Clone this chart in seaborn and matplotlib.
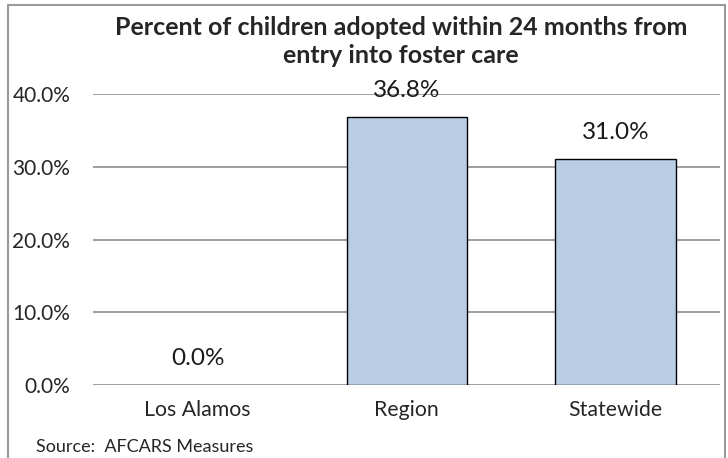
"""
Percent of children adopted within 24 months from entry into foster care.
Bar chart redrawn with seaborn, saved to out.png.
"""

import matplotlib
matplotlib.use("Agg")
import matplotlib.pyplot as plt
from matplotlib.patches import Rectangle
import pandas as pd
import seaborn as sns

categories = ["Los Alamos", "Region", "Statewide"]
percent_adopted = [0.0, 36.8, 31.0]
y_ticks = [0, 10, 20, 30, 40]
y_tick_labels = ["0.0%", "10.0%", "20.0%", "30.0%", "40.0%"]
title = "Percent of children adopted within 24 months from\nentry into foster care"
source_note = "Source:  AFCARS Measures"

df = pd.DataFrame({"area": categories, "pct": percent_adopted})

sns.set_theme(style="white")
plt.rcParams["font.family"] = ["Lato", "DejaVu Sans"]

fig = plt.figure(figsize=(7.28, 4.58), dpi=100)
ax = fig.add_axes([0.128, 0.159, 0.861, 0.636])

sns.barplot(
    data=df, x="area", y="pct", ax=ax,
    color="#B9CDE5", saturation=1, width=0.575,
    edgecolor="black", linewidth=1.0, zorder=3,
)

ax.set_ylim(0, 40)
ax.set_yticks(y_ticks)
ax.set_yticklabels(y_tick_labels, fontsize=15)
ax.tick_params(axis="x", labelsize=15.3, pad=11, length=0)
ax.tick_params(axis="y", pad=16.5, length=0)
ax.set_xlabel("")
ax.set_ylabel("")
ax.yaxis.grid(True, color="#8c8c8c", linewidth=1.2, zorder=0)
for side in ax.spines.values():
    side.set_visible(False)

# data labels above each bar; a zero bar shows no outline
for bar, val in zip(ax.patches, percent_adopted):
    if bar.get_height() == 0:
        bar.set_linewidth(0)
    ax.annotate(
        f"{val:.1f}%",
        (bar.get_x() + bar.get_width() / 2, bar.get_height()),
        xytext=(0, 19.5), textcoords="offset points",
        ha="center", va="center", fontsize=17.5, color="#1a1a1a",
    )

fig.text(0.551, 0.910, title, ha="center", va="center",
         fontsize=18, fontweight="bold", linespacing=1.25)
fig.text(0.049, 0.024, source_note, ha="left", va="center", fontsize=13)

# grey frame around the chart (bottom edge cut off like the original)
fig.patches.append(Rectangle((0.011, -0.02), 0.985, 1.009, transform=fig.transFigure,
                             fill=False, edgecolor="#9a9a9a", linewidth=1.5))

fig.savefig("out.png", dpi=100)
